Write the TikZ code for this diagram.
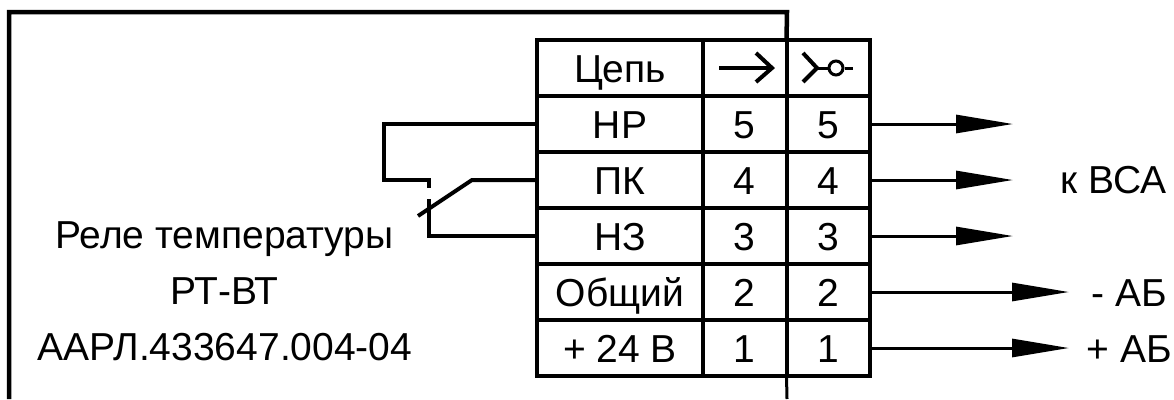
\documentclass[tikz,border=0pt]{standalone}
\usepackage{fontspec}
\setmainfont{Liberation Sans}
\usetikzlibrary{positioning,arrows.meta}

\begin{document}
\begin{tikzpicture}[
  x=1pt, y=-1pt,
  node distance=0pt and 0pt,
  font=\fontsize{39}{46}\selectfont,
  mycell/.style={draw,line width=4pt,outer sep=0pt,inner sep=0pt,minimum height=56pt,text height=29pt,text depth=0pt},
  namecell/.style={mycell,minimum width=166pt},
  pincell/.style={mycell,minimum width=83.5pt},
  wire/.style={line width=4pt},
  thinwire/.style={line width=3pt},
  outarrow/.style={line width=3pt,-{Triangle[length=57pt,width=18pt]}},
  mylabel/.style={inner sep=0pt,anchor=base}]
\useasboundingbox (0,0) rectangle (1174,399);

\node[namecell] (cep) at (620,68) {Цепь};
\node[namecell, below=of cep] (nr) {НР};
\node[namecell, below=of nr] (pk) {ПК};
\node[namecell, below=of pk] (nz) {НЗ};
\node[namecell, below=of nz] (ob) {Общий};
\node[namecell, below=of ob] (pl) {+ 24 В};

\node[pincell, right=of cep] (ha) {};
\node[pincell, right=of ha] (hb) {};
\node[pincell, right=of nr] (a5) {5};
\node[pincell, right=of a5] (b5) {5};
\node[pincell, right=of pk] (a4) {4};
\node[pincell, right=of a4] (b4) {4};
\node[pincell, right=of nz] (a3) {3};
\node[pincell, right=of a3] (b3) {3};
\node[pincell, right=of ob] (a2) {2};
\node[pincell, right=of a2] (b2) {2};
\node[pincell, right=of pl] (a1) {1};
\node[pincell, right=of a1] (b1) {1};

% free ends of the arrows
\coordinate[right=143pt of b5.east] (e5);
\coordinate[right=143pt of b4.east] (e4);
\coordinate[right=143pt of b3.east] (e3);
\coordinate[right=199pt of b2.east] (e2);
\coordinate[right=199pt of b1.east] (e1);

\node[mylabel, anchor=base east] (vsa) at (1167,193) {к ВСА};
\node[mylabel, anchor=base east] (mab) at (1167,306) {- АБ};
\node[mylabel, anchor=base east] (pab) at (1172,362) {+ АБ};

\node[mylabel] (rele) at (224.5,248) {Реле температуры};
\node[mylabel] (rt) at (224.5,304) {РТ-ВТ};
\node[mylabel] (aarl) at (225,360) {ААРЛ.433647.004-04};

\path[outarrow]
  (b5.east) edge (e5)
  (b4.east) edge (e4)
  (b3.east) edge (e3)
  (b2.east) edge (e2)
  (b1.east) edge (e1);

% frame
\coordinate (ftr) at (787,12);
\coordinate (ftl) at (9,12);
\coordinate (fbl) at (9,399);
\coordinate (fbr) at (787,399);
\draw[line width=4.5pt] (ha.north east) -- (ftr) -- (ftl) -- (fbl);
\draw[thinwire] (a1.south east) -- (fbr);

% contact
\coordinate (c1) at (384,124);
\coordinate (c2) at (384,180);
\coordinate (c3) at (429,180);
\coordinate (c4) at (429,188);
\coordinate (c5) at (472,180);
\coordinate (c6) at (418,216);
\coordinate (c7) at (429,199);
\coordinate (c8) at (429,236);
\draw[wire] (nr.west) -- (c1) -- (c2) -- (c3) -- (c4);
\draw[wire] (pk.west) -- (c5) -- (c6);
\draw[wire] (nz.west) -- (c8) -- (c7);

% header symbols
\coordinate (s1) at (719,68);
\coordinate (s2) at (772,68);
\draw[wire] (s1) -- (s2);
\draw[wire] (756,53) -- (s2) -- (756,82);
\coordinate (s3) at (817,68);
\coordinate (s4) at (853,68);
\node[circle,draw,line width=3pt,fill=white,minimum size=14pt,inner sep=0pt] (s5) at (836,68) {};
\draw[thinwire] (s3) -- (s5) (s5) -- (s4);
\draw[wire] (803,53) -- (s3) -- (803,82);

\end{tikzpicture}
\end{document}
